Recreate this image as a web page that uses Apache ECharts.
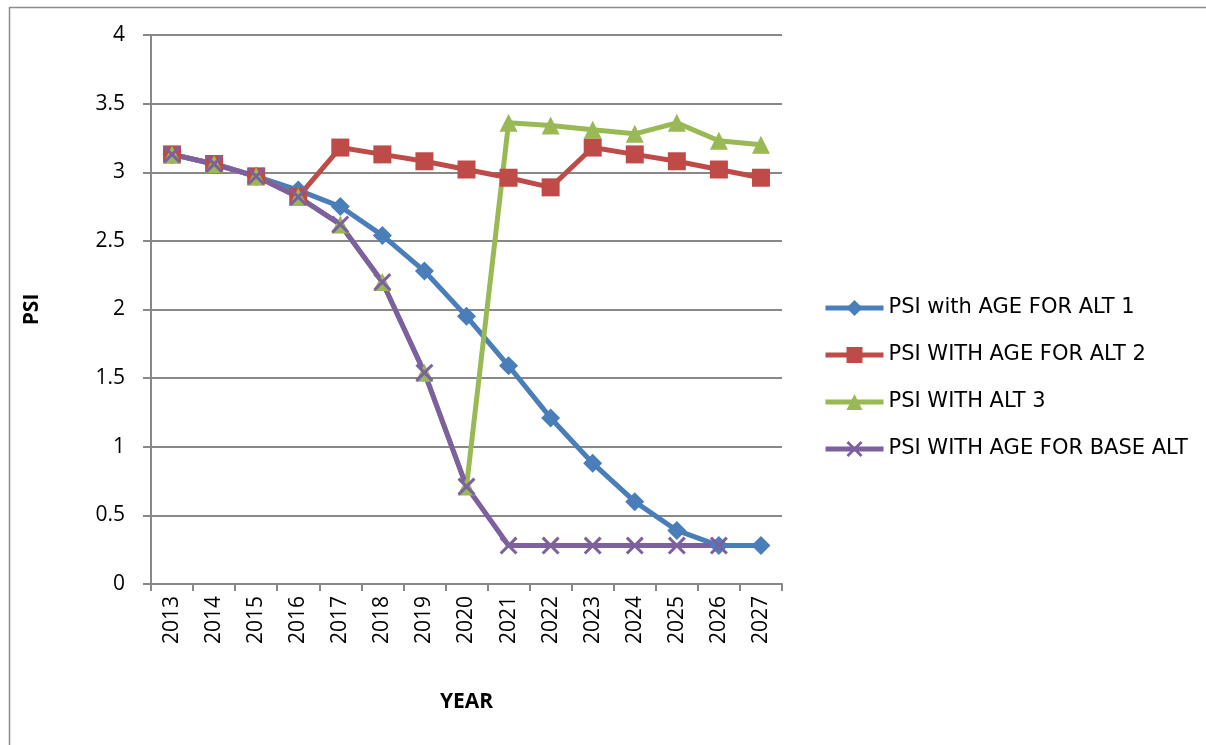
<!DOCTYPE html>
<html>
<head>
<meta charset="utf-8">
<script src="https://cdn.jsdelivr.net/npm/echarts@6/dist/echarts.min.js"></script>
<style>
html,body{margin:0;padding:0;background:#fff;}
#chart{width:1206px;height:745px;}
</style>
</head>
<body>
<div id="chart"></div>
<script>
const years = ['2013','2014','2015','2016','2017','2018','2019','2020','2021','2022','2023','2024','2025','2026','2027'];
const alt1 = [3.13,3.06,2.97,2.87,2.75,2.54,2.28,1.95,1.59,1.21,0.88,0.60,0.39,0.28,0.28];
const alt2 = [3.13,3.06,2.97,2.82,3.18,3.13,3.08,3.02,2.96,2.89,3.18,3.13,3.08,3.02,2.96];
const alt3 = [3.13,3.06,2.97,2.82,2.62,2.20,1.54,0.71,3.36,3.34,3.31,3.28,3.36,3.23,3.20];
const baseAlt = [3.13,3.06,2.97,2.82,2.62,2.20,1.54,0.71,0.28,0.28,0.28,0.28,0.28,0.28,null];
const seriesNames = ['PSI with AGE FOR ALT 1','PSI WITH AGE FOR ALT 2','PSI WITH ALT 3','PSI WITH AGE FOR BASE ALT'];
const yTicks = {min:0, max:4, interval:0.5};

const FONT = '"Open Sans", "Noto Sans", sans-serif';
const xPath = 'path://M0,1.2 L1.2,0 L10,8.8 L8.8,10 Z M8.8,0 L10,1.2 L1.2,10 L0,8.8 Z';

const chart = echarts.init(document.getElementById('chart'));
function mk(name, data, color, symbol, size) {
  return {
    name: name, type: 'line', data: data,
    symbol: symbol, symbolSize: size,
    lineStyle: {color: color, width: 5},
    itemStyle: {color: color},
    emphasis: {disabled: true},
    connectNulls: false,
    animation: false
  };
}
chart.setOption({
  animation: false,
  textStyle: {fontFamily: FONT},
  graphic: [{
    type: 'rect', left: 7, top: 5, z: -1,
    shape: {x: 0, y: 0, width: 1300, height: 800},
    style: {fill: 'none', stroke: '#8c8c8c', lineWidth: 1.5}
  }],
  grid: {left: 151, right: 424, top: 35, bottom: 161},
  legend: {
    orient: 'vertical', left: 818, top: 292,
    itemWidth: 58, itemHeight: 20, itemGap: 25,
    lineStyle: {width: 5},
    textStyle: {fontSize: 21, color: '#000', fontFamily: '"DejaVu Sans", sans-serif', lineHeight: 22},
    data: seriesNames
  },
  xAxis: {
    type: 'category', data: years, boundaryGap: true,
    name: 'YEAR', nameLocation: 'middle', nameGap: 108,
    nameTextStyle: {fontSize: 21, fontWeight: 'bold', color: '#000', fontFamily: FONT},
    axisLine: {lineStyle: {color: '#888', width: 2}},
    axisTick: {show: true, alignWithLabel: false, length: 7, lineStyle: {color: '#888', width: 2}},
    axisLabel: {rotate: 90, fontSize: 21, color: '#000', margin: 12, fontFamily: FONT}
  },
  yAxis: {
    type: 'value', min: yTicks.min, max: yTicks.max, interval: yTicks.interval,
    name: 'PSI', nameLocation: 'middle', nameGap: 108,
    nameTextStyle: {fontSize: 21, fontWeight: 'bold', color: '#000', fontFamily: FONT},
    axisLine: {show: true, lineStyle: {color: '#888', width: 2}},
    axisTick: {show: true, length: 8, lineStyle: {color: '#888', width: 2}},
    axisLabel: {fontSize: 21, color: '#000', margin: 26, fontFamily: FONT},
    splitLine: {show: true, lineStyle: {color: '#888', width: 2}}
  },
  series: [
    mk(seriesNames[0], alt1, '#4A7EBB', 'diamond', 19),
    mk(seriesNames[1], alt2, '#BE4B48', 'rect', 18),
    mk(seriesNames[2], alt3, '#98B954', 'triangle', 18),
    mk(seriesNames[3], baseAlt, '#7D60A0', xPath, 18)
  ]
});
</script>
</body>
</html>
